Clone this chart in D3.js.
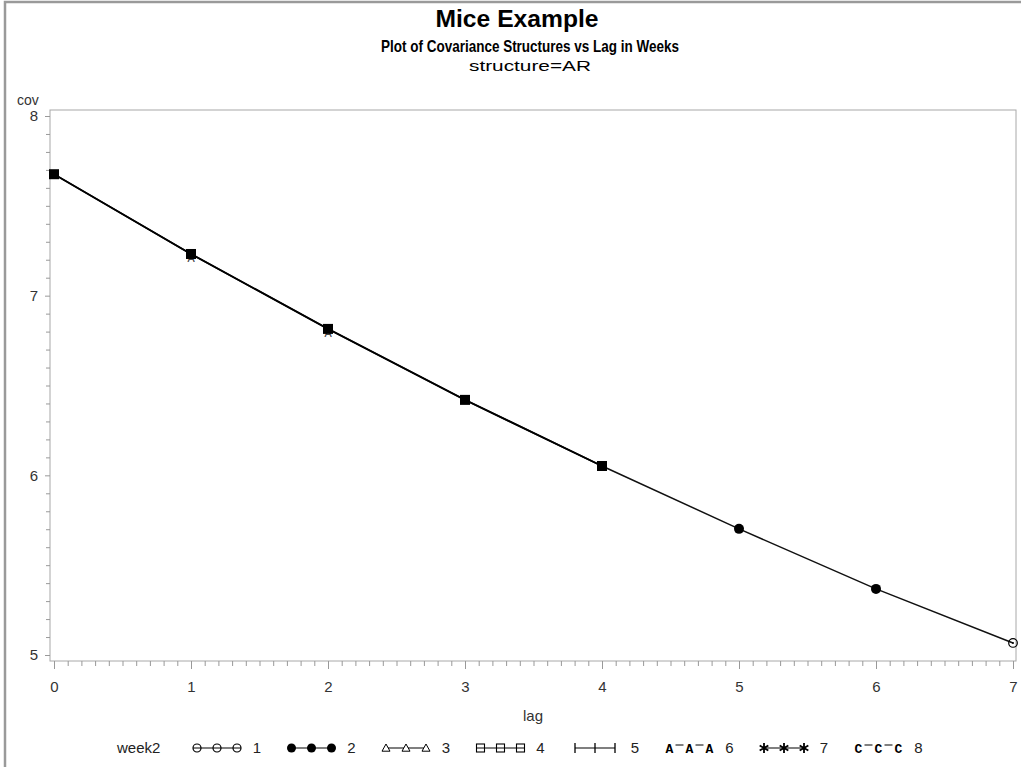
<!DOCTYPE html>
<html><head><meta charset="utf-8">
<script src="https://cdn.jsdelivr.net/npm/d3@7"></script>
<style>body{margin:0;background:#fff}svg{display:block}</style>
</head><body>
<svg id="chart" width="1021" height="767"></svg>
<script>
// ---- data ----
const lags = [0, 1, 2, 3, 4, 5, 6, 7];
const cov = [7.676, 7.232, 6.815, 6.420, 6.052, 5.702, 5.368, 5.067];
// week2 group whose marker is visible on top at each lag
const topWeek2 = [4, 4, 4, 4, 4, 2, 2, 1];
// lags where the week2=6 marker peeks out beneath the top marker
const underLagsWeek2_6 = [1, 2];
const week2Levels = ["1", "2", "3", "4", "5", "6", "7", "8"];
const xTicks = [0, 1, 2, 3, 4, 5, 6, 7];
const yTicks = [5, 6, 7, 8];
const titles = ["Mice Example", "Plot of Covariance Structures vs Lag in Weeks", "structure=AR"];

const FONT = "'Liberation Sans Narrow','Liberation Sans',Arial,sans-serif";
const svg = d3.select("#chart");

// outer border
svg.append("path").attr("d", "M5,767 V2 H1021").attr("fill", "none")
  .attr("stroke", "#9a9a9a").attr("stroke-width", 2.5);

// titles
svg.append("text").attr("x", 517).attr("y", 27).attr("text-anchor", "middle")
  .attr("font-family", FONT).attr("font-weight", "bold").attr("font-size", 24)
  .attr("textLength", 163).attr("lengthAdjust", "spacingAndGlyphs").text(titles[0]);
svg.append("text").attr("x", 530).attr("y", 52).attr("text-anchor", "middle")
  .attr("font-family", FONT).attr("font-weight", "bold").attr("font-size", 17)
  .attr("textLength", 298).attr("lengthAdjust", "spacingAndGlyphs").text(titles[1]);
svg.append("text").attr("x", 530).attr("y", 71).attr("text-anchor", "middle")
  .attr("font-family", FONT).attr("font-size", 15)
  .attr("textLength", 122).attr("lengthAdjust", "spacingAndGlyphs").text(titles[2]);

// scales
const x = d3.scaleLinear().domain([0, 7]).range([54, 1013]);
const y = d3.scaleLinear().domain([5, 8]).range([655, 116]);
const frame = {l: 50, r: 1016, t: 110, b: 661};

svg.append("rect").attr("x", frame.l).attr("y", frame.t)
  .attr("width", frame.r - frame.l).attr("height", frame.b - frame.t)
  .attr("fill", "none").attr("stroke", "#a8a8a8").attr("stroke-width", 1);

const minorX = d3.range(0, 70).map(i => i / 10).filter((v, i) => i % 10 !== 0);
const minorY = d3.range(50, 80).map(i => i / 10).filter((v, i) => i % 10 !== 0);

function styleAxis(g) {
  g.select(".domain").remove();
  g.selectAll(".tick line").attr("stroke", "#999");
  g.selectAll(".tick text").attr("fill", "#333").attr("font-family", FONT).attr("font-size", 15);
}
svg.append("g").attr("transform", `translate(0,${frame.b})`)
  .call(d3.axisBottom(x).tickValues(minorX).tickSize(5).tickFormat(""))
  .call(styleAxis);
svg.append("g").attr("transform", `translate(0,${frame.b})`)
  .call(d3.axisBottom(x).tickValues(xTicks).tickSize(8).tickPadding(12).tickFormat(d3.format("d")))
  .call(styleAxis);
svg.append("g").attr("transform", `translate(${frame.l},0)`)
  .call(d3.axisLeft(y).tickValues(minorY).tickSize(4).tickFormat(""))
  .call(styleAxis);
svg.append("g").attr("transform", `translate(${frame.l},0)`)
  .call(d3.axisLeft(y).tickValues(yTicks).tickSize(5).tickPadding(7).tickFormat(d3.format("d")))
  .call(styleAxis);

// axis labels
svg.append("text").attr("x", 17).attr("y", 105).attr("font-family", FONT)
  .attr("font-size", 14).attr("fill", "#333").text("cov");
svg.append("text").attr("x", 533).attr("y", 721).attr("text-anchor", "middle")
  .attr("font-family", FONT).attr("font-size", 15).attr("fill", "#333").text("lag");

// line
const pts = lags.map((l, i) => ({lag: l, cov: cov[i], w: topWeek2[i]}));
const line = d3.line().x(d => x(d.lag)).y(d => y(d.cov));
svg.append("path").datum(pts).attr("d", line).attr("fill", "none")
  .attr("stroke", "#111").attr("stroke-width", 1.5);
svg.append("path").datum(pts.filter(d => d.lag <= 4)).attr("d", line).attr("fill", "none")
  .attr("stroke", "#000").attr("stroke-width", 1.9);

// marker drawing
function marker(g, w, cx, cy, s) {
  const r = s / 2;
  switch (w) {
    case "1":
      g.append("circle").attr("cx", cx).attr("cy", cy).attr("r", r).attr("fill", "#fff").attr("stroke", "#000").attr("stroke-width", 1.2);
      g.append("line").attr("x1", cx - r).attr("x2", cx + r).attr("y1", cy).attr("y2", cy).attr("stroke", "#000").attr("stroke-width", 1);
      break;
    case "2":
      g.append("circle").attr("cx", cx).attr("cy", cy).attr("r", r).attr("fill", "#000"); break;
    case "3":
      g.append("path").attr("d", `M${cx - r},${cy + r * 0.8} L${cx},${cy - r} L${cx + r},${cy + r * 0.8} Z`).attr("fill", "#fff").attr("stroke", "#000").attr("stroke-width", 1); break;
    case "4":
      g.append("rect").attr("x", cx - r).attr("y", cy - r).attr("width", s).attr("height", s).attr("fill", "#fff").attr("stroke", "#000").attr("stroke-width", 1.1);
      g.append("line").attr("x1", cx - r).attr("x2", cx + r).attr("y1", cy).attr("y2", cy).attr("stroke", "#000").attr("stroke-width", 1);
      break;
    case "5":
      g.append("line").attr("x1", cx).attr("x2", cx).attr("y1", cy - r - 1).attr("y2", cy + r + 1).attr("stroke", "#000").attr("stroke-width", 1.3); break;
    case "6":
      g.append("text").attr("x", cx).attr("y", cy + 5).attr("text-anchor", "middle").attr("font-family", "'Liberation Mono',monospace").attr("font-size", 13).attr("font-weight", "bold").text("A"); break;
    case "7":
      g.append("path").attr("d", d3.symbol(d3.symbolAsterisk, 70)()).attr("transform", `translate(${cx},${cy})`).attr("fill", "none").attr("stroke", "#000").attr("stroke-width", 1.8); break;
    case "8":
      g.append("text").attr("x", cx).attr("y", cy + 5).attr("text-anchor", "middle").attr("font-family", "'Liberation Mono',monospace").attr("font-size", 13).attr("font-weight", "bold").text("C"); break;
  }
}

// plot markers
const mg = svg.append("g");
underLagsWeek2_6.forEach(l => {
  mg.append("text").attr("x", x(l)).attr("y", y(cov[l]) + 8).attr("text-anchor", "middle")
    .attr("font-family", "'Liberation Mono',monospace").attr("font-size", 12).attr("fill", "#444").text("A");
});
pts.forEach(d => {
  if (d.w === 4) {
    mg.append("rect").attr("x", x(d.lag) - 5).attr("y", y(d.cov) - 5).attr("width", 10).attr("height", 10).attr("fill", "#000");
  } else if (d.w === 2) {
    mg.append("circle").attr("cx", x(d.lag)).attr("cy", y(d.cov)).attr("r", 5).attr("fill", "#000");
  } else if (d.w === 1) {
    mg.append("circle").attr("cx", x(d.lag)).attr("cy", y(d.cov)).attr("r", 4.3).attr("fill", "none").attr("stroke", "#000").attr("stroke-width", 1.2);
    mg.append("circle").attr("cx", x(d.lag)).attr("cy", y(d.cov)).attr("r", 1).attr("fill", "#000");
  }
});

// legend
const lg = svg.append("g");
const ly = 748;
lg.append("text").attr("x", 117).attr("y", ly + 5).attr("font-family", FONT).attr("font-size", 15).attr("fill", "#222").text("week2");
week2Levels.forEach((w, i) => {
  const x0 = 197 + i * 94.5;
  if (w === "6" || w === "8") {
    [0, 20].forEach(o => lg.append("line").attr("x1", x0 + o + 6).attr("x2", x0 + o + 14).attr("y1", ly - 3).attr("y2", ly - 3).attr("stroke", "#000").attr("stroke-width", 1));
  } else {
    lg.append("line").attr("x1", x0).attr("x2", x0 + 40).attr("y1", ly).attr("y2", ly).attr("stroke", "#000").attr("stroke-width", 1.1);
  }
  [0, 20, 40].forEach(o => marker(lg, w, x0 + o, ly, w === "2" ? 9 : 8));
  lg.append("text").attr("x", x0 + 60).attr("y", ly + 5).attr("text-anchor", "middle").attr("font-family", FONT).attr("font-size", 15).attr("fill", "#222").text(w);
});
</script>
</body></html>
